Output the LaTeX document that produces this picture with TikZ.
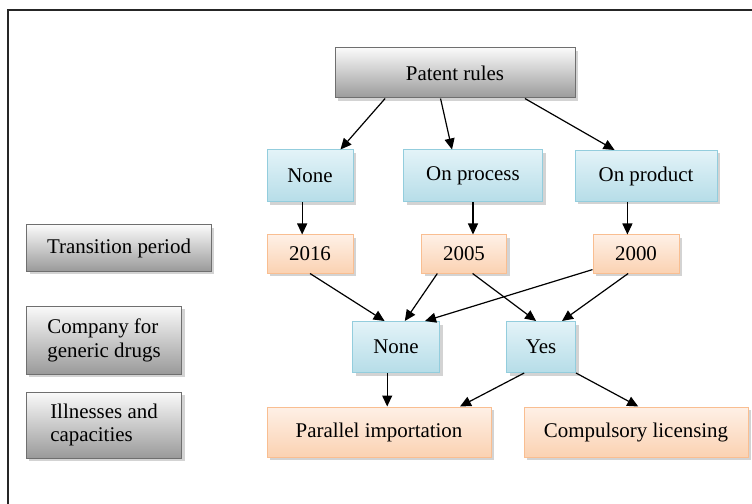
\documentclass[tikz,border=0pt]{standalone}
\usepackage{fontspec}
\setmainfont{Liberation Serif}
\usetikzlibrary{shadows,arrows.meta,calc}
\definecolor{bluetop}{HTML}{E3F3F8}
\definecolor{bluebot}{HTML}{B6DDE8}
\definecolor{blueline}{HTML}{93CDDD}
\definecolor{ortop}{HTML}{FEF0E6}
\definecolor{orbot}{HTML}{FBD2B2}
\definecolor{orline}{HTML}{F9BE91}
\definecolor{graytop}{HTML}{FAFAFA}
\definecolor{graybot}{HTML}{9A9A9A}
\definecolor{grayline}{HTML}{6F6F6F}
\begin{document}
\begin{tikzpicture}[x=1bp,y=-1bp,
  every node/.style={font=\fontsize{21}{24}\selectfont, inner sep=0pt},
  boxbase/.style={draw, line width=1bp, drop shadow={shadow xshift=3bp, shadow yshift=-3bp, opacity=0.35}},
  graybox/.style={boxbase, draw=grayline, top color=graytop, bottom color=graybot},
  bluebox/.style={boxbase, draw=blueline, top color=bluetop, bottom color=bluebot},
  orbox/.style={boxbase, draw=orline, top color=ortop, bottom color=orbot},
  arr/.style={-{Triangle[length=11bp,width=10bp]}, line width=1.2bp, black}
]
\useasboundingbox (0,0) rectangle (752,504);
\draw[line width=1.6bp, black!85] (8,10) rectangle (770,520);

% top row
\node[graybox, minimum width=240bp, minimum height=50bp] (pr) at (455,73) {Patent rules};
\node[bluebox, minimum width=86bp, minimum height=52bp] (n1) at (310,176) {None};
\node[bluebox, minimum width=139bp, minimum height=52bp] (op) at (473,176) {On process};
\node[bluebox, minimum width=142bp, minimum height=51bp] (opr) at (646,176) {On product};
% years
\node[orbox, minimum width=86bp, minimum height=38bp] (y16) at (310,254) {2016};
\node[orbox, minimum width=85bp, minimum height=38bp] (y05) at (464,254) {2005};
\node[orbox, minimum width=86bp, minimum height=38bp] (y00) at (636,254) {2000};
% left labels
\node[graybox, minimum width=184bp, minimum height=46bp] (tp) at (119,248) {Transition period};
\node[graybox, minimum width=155bp, minimum height=68bp, align=left] (cg) at (104,340) {Company for\\generic drugs};
\node[graybox, minimum width=155bp, minimum height=66bp, align=left] (il) at (104,425) {Illnesses and\\capacities};
% companies
\node[bluebox, minimum width=87bp, minimum height=51bp] (n2) at (396,347) {None};
\node[bluebox, minimum width=69bp, minimum height=51bp] (yes) at (541,347) {Yes};
% bottom
\node[orbox, minimum width=224bp, minimum height=50bp] (pi) at (379,432) {Parallel importation};
\node[orbox, minimum width=224bp, minimum height=50bp] (cl) at (636,432) {Compulsory licensing};

% arrows
\draw[arr] ($(pr.south west)!0.21!(pr.south east)$) -- ($(n1.north west)!0.85!(n1.north east)$);
\draw[arr] ($(pr.south west)!0.44!(pr.south east)$) -- ($(op.north west)!0.35!(op.north east)$);
\draw[arr] ($(pr.south west)!0.79!(pr.south east)$) -- ($(opr.north west)!0.28!(opr.north east)$);

\draw[arr] ($(n1.south west)!0.41!(n1.south east)$) coordinate (a1) -- (a1 |- y16.north);
\draw[arr] (op.south) -- (op.south |- y05.north);
\draw[arr] ($(opr.south west)!0.37!(opr.south east)$) coordinate (a3) -- (a3 |- y00.north);

\draw[arr] (y16.south) -- ($(n2.north west)!0.37!(n2.north east)$);
\draw[arr] ($(y05.south west)!0.19!(y05.south east)$) -- ($(n2.north west)!0.6!(n2.north east)$);
\draw[arr] ($(y00.north west)!0.9!(y00.south west)$) -- ($(n2.north west)!0.83!(n2.north east)$);
\draw[arr] ($(y05.south west)!0.6!(y05.south east)$) -- ($(yes.north west)!0.43!(yes.north east)$);
\draw[arr] ($(y00.south west)!0.41!(y00.south east)$) -- ($(yes.north west)!0.8!(yes.north east)$);

\draw[arr] ($(n2.south west)!0.4!(n2.south east)$) coordinate (a4) -- (a4 |- pi.north);
\draw[arr] ($(yes.south west)!0.26!(yes.south east)$) -- ($(pi.north west)!0.86!(pi.north east)$);
\draw[arr] (yes.south east) -- ($(cl.north west)!0.51!(cl.north east)$);
\end{tikzpicture}
\end{document}
